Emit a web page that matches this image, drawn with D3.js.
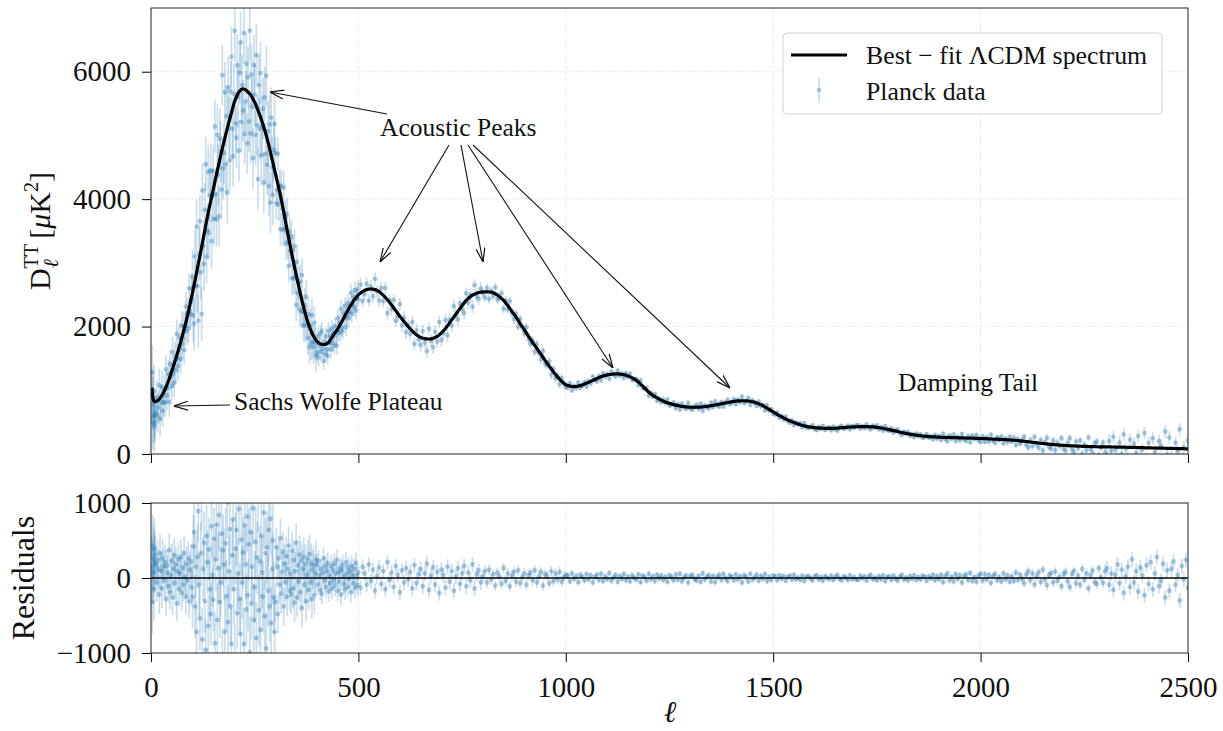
<!DOCTYPE html>
<html><head><meta charset="utf-8">
<script src="https://cdn.jsdelivr.net/npm/d3@7"></script>
<style>
body{margin:0;background:#fff}
svg{display:block}
text{font-family:"Liberation Serif","DejaVu Serif",serif;fill:#111}
</style>
</head><body>
<svg id="c" width="1223" height="731"></svg>
<script>
// ---------------- data ----------------
const ellLow = [2,3,4,5,6,7,8,9];
const ellA = d3.range(10, 501, 2);     // multipoles 10..500 every 2
const ellB = d3.range(505, 1001, 5);   // 505..1000 every 5
const ellC = d3.range(1005, 2501, 5);  // 1005..2500 every 5

// best-fit LCDM D_ell^TT [muK^2]
const modelLow = [1040,965,910,872,848,833,825,821];
const modelA = [
 820,825,829,838,848,860,878,896,916,938,
 960,988,1016,1046,1078,1110,1146,1182,1220,1260,
 1300,1340,1380,1420,1460,1500,1544,1588,1632,1676,
 1720,1768,1816,1864,1912,1960,2012,2064,2118,2174,
 2230,2290,2350,2410,2470,2530,2594,2658,2722,2786,
 2850,2916,2982,3048,3114,3180,3248,3316,3384,3452,
 3520,3588,3656,3722,3786,3850,3910,3970,4030,4090,
 4150,4210,4270,4330,4390,4450,4510,4570,4628,4684,
 4740,4796,4852,4906,4958,5010,5062,5114,5164,5212,
 5260,5308,5356,5404,5452,5500,5540,5576,5604,5632,
 5660,5680,5698,5712,5722,5730,5729,5727,5722,5714,
 5705,5694,5682,5669,5655,5640,5618,5596,5572,5546,
 5520,5490,5460,5428,5394,5360,5324,5288,5250,5210,
 5170,5128,5086,5042,4996,4950,4898,4846,4792,4736,
 4680,4624,4568,4512,4456,4400,4344,4288,4232,4176,
 4120,4058,3996,3932,3866,3800,3730,3660,3590,3520,
 3450,3384,3318,3252,3186,3120,3058,2996,2934,2872,
 2810,2752,2694,2636,2578,2520,2464,2408,2354,2302,
 2250,2204,2158,2112,2070,2030,1996,1962,1930,1900,
 1870,1848,1826,1804,1786,1770,1758,1746,1736,1730,
 1725,1722,1719,1718,1719,1720,1726,1732,1740,1752,
 1770,1788,1806,1826,1848,1870,1888,1906,1924,1942,
 1960,1984,2008,2032,2056,2080,2104,2128,2152,2176,
 2200,2224,2248,2272,2296,2320,2340,2360,2380,2400,
 2420,2436,2452,2468,2484,2500];
const modelB = [
 2528,2550,2568,2580,2587,2590,2587,2580,2567,2550,
 2522,2490,2456,2420,2382,2340,2296,2250,2205,2160,
 2120,2080,2040,2000,1964,1930,1898,1870,1848,1830,
 1818,1810,1806,1805,1808,1815,1828,1845,1870,1900,
 1934,1970,2014,2060,2105,2150,2195,2240,2285,2330,
 2372,2410,2442,2470,2492,2510,2524,2535,2541,2545,
 2546,2545,2543,2540,2530,2515,2495,2470,2442,2410,
 2372,2330,2286,2240,2196,2150,2098,2045,1998,1950,
 1900,1850,1800,1750,1705,1660,1612,1565,1518,1470,
 1425,1380,1335,1290,1250,1210,1175,1140,1114,1090];
const modelC = [
 1075,1065,1059,1057,1059,1065,1074,1085,1097,1110,
 1125,1140,1155,1170,1185,1200,1213,1225,1233,1240,
 1247,1252,1255,1257,1257,1255,1251,1245,1236,1225,
 1211,1195,1176,1155,1129,1100,1068,1035,1002,970,
 944,920,899,880,862,845,829,815,804,795,
 785,775,767,760,754,748,744,740,737,735,
 734,733,734,735,737,740,744,748,753,758,
 764,770,776,782,788,795,801,808,814,820,
 825,830,833,835,836,836,835,832,827,820,
 811,800,788,775,758,740,721,700,680,660,
 640,620,602,585,567,550,535,520,507,495,
 482,470,460,450,442,435,428,422,417,413,
 410,407,405,404,403,402,401,401,403,405,
 407,410,412,415,418,420,422,424,426,427,
 428,429,430,430,430,429,427,425,422,418,
 413,408,402,396,389,382,375,367,360,352,
 345,337,330,323,317,311,305,300,295,291,
 287,283,280,277,274,272,270,268,266,265,
 263,262,261,260,259,258,257,256,255,254,
 253,252,251,250,249,248,247,246,245,244,
 242,241,239,238,236,235,233,232,230,229,
 227,225,223,221,218,216,213,210,207,203,
 200,196,192,188,184,180,176,172,168,165,
 161,158,154,151,148,145,142,140,137,135,
 133,131,129,128,126,125,123,122,121,120,
 119,118,117,116,115,114,113,113,112,112,
 111,111,110,110,109,109,108,108,107,106,
 105,105,104,103,102,101,100,99,98,97,
 96,95,94,94,93,92,91,91,90,89,
 88,88,87,86,85,85,84,83,82,82];

// residuals (model - data) [muK^2]
const residLow = [150,-320,420,80,260,-150,380,210];
const residA = [
 310,180,-60,240,120,-220,330,90,-140,260,
 150,-30,210,-280,160,70,-110,370,-190,40,
 230,-260,120,300,-70,180,-340,90,250,-150,
 60,280,-200,140,-90,330,10,-250,190,-40,
 260,-310,110,220,-130,
 -250,420,610,-380,150,-720,280,890,-90,-540,
 330,1050,-820,120,470,-310,-960,560,210,-640,
 380,-150,-480,690,40,-290,520,-870,250,710,
 -560,130,840,-320,-60,590,-1150,370,180,-720,
 460,-240,1010,-590,90,650,-380,-880,300,780,
 -150,-1100,390,640,-470,60,920,-280,-750,510,
 -60,340,-880,700,180,-420,820,-230,450,-990,
 610,-340,150,930,-560,-120,480,-800,270,1080,
 -430,220,-690,560,70,-250,870,-510,330,-940,
 410,-170,640,-380,790,-600,120,500,-260,-720,
 -320,410,150,-480,260,-90,530,-210,80,350,
 -380,190,-60,290,-250,120,430,-170,60,-220,
 360,-140,240,-330,90,470,-260,170,-50,310,
 -190,230,-400,120,280,-90,190,-310,40,250,
 -160,320,-60,200,-280,110,170,-230,60,240,
 180,-90,230,40,-160,120,-210,70,260,-40,
 150,-120,90,200,-180,30,-70,160,-140,110,
 -30,190,-100,60,240,-170,80,-50,130,-220,
 100,170,-80,20,-150,210,60,-120,140,-10,
 90,-190,160,40,-70,120,-130,200,30,-100,
 70];
const residB = [
 -130,150,60,-90,180,-40,110,-170,20,140,
 -80,90,-150,210,-30,70,-120,160,40,-190,
 100,-60,130,-20,80,-140,170,-70,50,120,
 -110,60,190,-160,30,140,-90,80,-200,110,
 40,-130,150,-50,90,-170,20,130,-80,60,
 160,-110,70,-30,180,-140,50,100,-60,20,
 90,-60,110,-20,50,-100,70,20,-80,130,
 -40,60,-110,30,80,-50,100,-70,10,60,
 -90,40,70,-30,100,-60,20,80,-100,50,
 30,-70,90,-40,60,-20,80,-50,10,40];
const residC = [
 30,-45,60,-10,25,-55,40,15,-30,50,
 -20,35,-60,10,45,-25,55,-40,20,-15,
 65,-35,5,40,-50,25,-10,50,-30,15,
 -45,35,0,-20,45,-55,30,10,-35,55,
 -15,20,-40,40,-5,30,-25,15,-50,35,
 10,-30,45,-20,55,-40,5,30,-60,20,
 40,-10,-35,25,-50,60,-20,15,35,-45,
 25,-55,10,40,-25,50,-5,-40,30,15,
 -30,45,-15,20,-60,35,10,-45,55,-20,
 5,40,-35,25,-10,50,-40,15,-25,30,
 20,-30,35,-10,25,-35,10,30,-20,40,
 -15,5,-25,30,-40,15,25,-5,-30,20,
 35,-20,10,-35,25,0,-15,30,-25,15,
 40,-10,-30,20,5,-25,35,-15,10,-20,
 -25,30,-5,20,-35,15,40,-20,5,-30,
 25,-15,35,-40,10,20,-25,30,-10,-35,
 15,40,-20,5,-30,25,-10,35,-25,10,
 -20,30,15,-35,20,-5,40,-30,25,-15,
 40,-55,25,60,-30,15,-45,50,-10,35,
 -60,20,45,-25,65,-40,10,-50,30,55,
 -35,50,-20,40,-65,25,55,-30,10,-45,
 60,-15,35,-50,20,-40,70,-25,45,-10,
 -70,45,90,-30,60,-85,20,75,-50,110,
 -20,-95,40,65,-60,85,-35,15,-110,50,
 80,-45,-120,55,95,-70,30,-90,120,-25,
 60,-140,35,100,-55,-80,130,10,-65,90,
 130,-90,60,-160,40,180,-70,110,-200,20,
 150,-120,250,-60,90,-180,140,30,-230,170,
 -80,210,-150,60,280,-110,-40,190,-260,100,
 -170,120,220,-90,40,-300,160,-20,240,-130];

// 1-sigma error bars by multipole range
const errEdges = [0,10,30,100,160,300,400,500,800,1000,1500,1900,2100,2300,2501];
const errVals  = [420,260,230,420,480,260,140,100,70,42,34,42,60,100];

const xTicks = [0,500,1000,1500,2000,2500];
const yTicksTop = [0,2000,4000,6000];
const yTicksRes = [-1000,0,1000];

// ---------------- build table ----------------
const ells = ellLow.concat(ellA, ellB, ellC);
const model = modelLow.concat(modelA, modelB, modelC);
const resid = residLow.concat(residA, residB, residC);
const errOf = l => errVals[d3.bisectRight(errEdges, l) - 1];
const pts = ells.map((l,i) => ({l, m: model[i], r: resid[i], d: model[i] - resid[i], e: errOf(l)}));

// ---------------- layout ----------------
const svg = d3.select("#c");
const L = 151, R = 1188;
const T1 = 8, B1 = 454, T2 = 503, B2 = 653;
const blue = "#1f77b4";
const FONT = "Liberation Serif, DejaVu Serif, serif";

const x = d3.scaleLinear().domain([0,2500]).range([L,R]);
const y1 = d3.scaleLinear().domain([0,7000]).range([B1,T1]);
const y2 = d3.scaleLinear().domain([-1000,1000]).range([B2,T2]);

const defs = svg.append("defs");
defs.append("clipPath").attr("id","cp1").append("rect").attr("x",L).attr("y",T1).attr("width",R-L).attr("height",B1-T1);
defs.append("clipPath").attr("id","cp2").append("rect").attr("x",L).attr("y",T2).attr("width",R-L).attr("height",B2-T2);
defs.append("marker").attr("id","arr").attr("viewBox","0 0 14 10").attr("refX",14).attr("refY",5)
  .attr("markerWidth",14).attr("markerHeight",10).attr("markerUnits","userSpaceOnUse").attr("orient","auto")
  .append("path").attr("d","M0,0.5 L14,5 L0,9.5").attr("fill","none").attr("stroke","#111").attr("stroke-width",1.2);

// grids
function grid(yScale, top, bottom, yt){
  const g = svg.append("g").attr("stroke","#cfcfcf").attr("stroke-width",0.8).attr("stroke-dasharray","1.2,2");
  g.selectAll("line.gx").data(xTicks.slice(1,-1)).join("line")
    .attr("x1",d=>x(d)).attr("x2",d=>x(d)).attr("y1",top).attr("y2",bottom);
  g.selectAll("line.gy").data(yt).join("line")
    .attr("x1",L).attr("x2",R).attr("y1",d=>yScale(d)).attr("y2",d=>yScale(d));
}
grid(y1, T1, B1, yTicksTop.slice(1));
grid(y2, T2, B2, []);

function drawData(g, yScale, val){
  g.append("g").attr("stroke",blue).attr("stroke-opacity",0.24).attr("stroke-width",1.7)
    .selectAll("line").data(pts).join("line")
    .attr("x1",d=>x(d.l)).attr("x2",d=>x(d.l))
    .attr("y1",d=>yScale(val(d) - d.e)).attr("y2",d=>yScale(val(d) + d.e));
  g.append("g").attr("fill",blue).attr("fill-opacity",0.38)
    .selectAll("circle").data(pts).join("circle")
    .attr("cx",d=>x(d.l)).attr("cy",d=>yScale(val(d))).attr("r",2.4);
}

// ---------------- top panel ----------------
const g1 = svg.append("g").attr("clip-path","url(#cp1)");
drawData(g1, y1, d => d.d);
const line = d3.line().x(d=>x(d.l)).y(d=>y1(d.m)).curve(d3.curveMonotoneX);
g1.append("path").datum(pts).attr("d",line).attr("fill","none").attr("stroke","#000").attr("stroke-width",3.2);

// ---------------- residual panel ----------------
const g2 = svg.append("g").attr("clip-path","url(#cp2)");
drawData(g2, y2, d => d.r);
g2.append("line").attr("x1",L).attr("x2",R).attr("y1",y2(0)).attr("y2",y2(0)).attr("stroke","#000").attr("stroke-width",1.5);

// ---------------- axes ----------------
const fmt = d => d < 0 ? "\u2212" + Math.abs(d) : String(d);
function styleAxis(g){
  g.attr("font-family",FONT).attr("font-size",29);
  g.select(".domain").remove();
  g.selectAll(".tick line").attr("stroke","#000").attr("stroke-width",1);
  g.selectAll(".tick text").attr("fill","#111");
}
svg.append("g").attr("transform",`translate(${L},0)`)
  .call(d3.axisLeft(y1).tickValues(yTicksTop).tickSize(9).tickPadding(11).tickFormat(fmt)).call(styleAxis);
svg.append("g").attr("transform",`translate(0,${B1})`)
  .call(d3.axisBottom(x).tickValues(xTicks).tickSize(9).tickFormat("")).call(styleAxis);
svg.append("g").attr("transform",`translate(${L},0)`)
  .call(d3.axisLeft(y2).tickValues(yTicksRes).tickSize(9).tickPadding(11).tickFormat(fmt)).call(styleAxis);
svg.append("g").attr("transform",`translate(0,${B2})`)
  .call(d3.axisBottom(x).tickValues(xTicks).tickSize(9).tickPadding(14).tickFormat(fmt)).call(styleAxis);

// frames
[[T1,B1],[T2,B2]].forEach(([t,b])=>{
  svg.append("rect").attr("x",L).attr("y",t).attr("width",R-L).attr("height",b-t)
    .attr("fill","none").attr("stroke","#222").attr("stroke-width",1);
});

// ---------------- labels ----------------
const yl = svg.append("text").attr("transform","translate(50,231) rotate(-90)")
  .attr("text-anchor","middle").attr("font-size",30);
yl.append("tspan").text("D");
yl.append("tspan").attr("font-size",20).attr("dy",-12).text("TT");
yl.append("tspan").attr("font-size",21).attr("font-style","italic").attr("dx",-24).attr("dy",20).text("\u2113");
yl.append("tspan").attr("font-size",30).attr("dx",13).attr("dy",-8).text(" [");
yl.append("tspan").attr("font-style","italic").text("\u03bc");
yl.append("tspan").text("K");
yl.append("tspan").attr("font-size",20).attr("dy",-12).text("2");
yl.append("tspan").attr("font-size",30).attr("dy",12).text("]");

svg.append("text").attr("transform","translate(34,578) rotate(-90)")
  .attr("text-anchor","middle").attr("font-size",32).text("Residuals");
svg.append("text").attr("x",670).attr("y",722).attr("text-anchor","middle")
  .attr("font-size",30).attr("font-style","italic").text("\u2113");

// ---------------- legend ----------------
const lg = svg.append("g");
lg.append("rect").attr("x",783).attr("y",33).attr("width",379).attr("height",81).attr("rx",4)
  .attr("fill","#fff").attr("fill-opacity",0.85).attr("stroke","#d0d0d0").attr("stroke-width",1);
lg.append("line").attr("x1",791).attr("x2",847).attr("y1",55).attr("y2",55).attr("stroke","#000").attr("stroke-width",3.2);
lg.append("text").attr("x",866).attr("y",64).attr("font-size",25.8).text("Best \u2212 fit \u039bCDM spectrum");
lg.append("line").attr("x1",819).attr("x2",819).attr("y1",78).attr("y2",103).attr("stroke",blue).attr("stroke-opacity",0.25).attr("stroke-width",1.7);
lg.append("circle").attr("cx",819).attr("cy",90).attr("r",2.3).attr("fill",blue).attr("fill-opacity",0.35);
lg.append("text").attr("x",866).attr("y",100).attr("font-size",25.8).text("Planck data");

// ---------------- annotations ----------------
const an = svg.append("g").attr("stroke","#111").attr("stroke-width",1.1).attr("fill","none");
const arrows = [
  [[387,114],[270,92]],
  [[449,145],[380,262]],
  [[461,145],[483,262]],
  [[468,145],[613,368]],
  [[473,145],[730,388]],
  [[230,405],[174,406]]
];
arrows.forEach(([a,b])=>{
  an.append("line").attr("x1",a[0]).attr("y1",a[1]).attr("x2",b[0]).attr("y2",b[1]).attr("marker-end","url(#arr)");
});
svg.append("text").attr("x",380).attr("y",136).attr("font-size",25.5).text("Acoustic Peaks");
svg.append("text").attr("x",234).attr("y",410).attr("font-size",25.5).text("Sachs Wolfe Plateau");
svg.append("text").attr("x",898).attr("y",391).attr("font-size",25.5).text("Damping Tail");
</script>
</body></html>
